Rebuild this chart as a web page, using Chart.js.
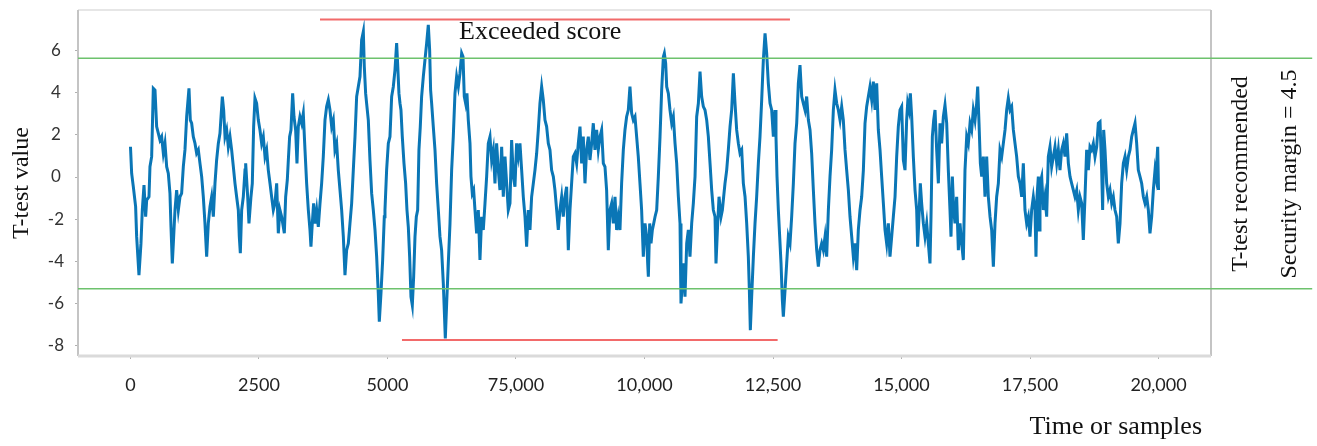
<!DOCTYPE html>
<html>
<head>
<meta charset="utf-8">
<script src="https://cdn.jsdelivr.net/npm/chart.js@4.4.1/dist/chart.umd.min.js"></script>
<style>
  html, body { margin: 0; padding: 0; background: #fff; }
  #wrap { width: 1317px; height: 446px; position: relative; }
</style>
</head>
<body>
<div id="wrap"><canvas id="myChart"></canvas></div>
<script>
// sample index of each traced point
const samples = [
  0,23,55,100,120,165,204,230,263,295,315,360,379,412,444,477,509,542,574,606,639,671,704,736,768,788,814,840,866,898,931,963,995,1028,1060,1093,1138,1164,1190,1222,1255,1287,1320,1352,1385,1417,1449,1482,1514,1547,1579,1612,1644,1676,1709,1741,1787,1813,1839,1871,1903,1936,1968,2001,2033,2065,2098,2117,2137,2163,2195,2228,2241,2280,2305,2344,2370,2396,
  2422,2454,2487,2519,2552,2584,2617,2649,2681,2714,2746,2779,2811,2844,2876,2908,2941,2993,3019,3051,3071,3096,3122,3155,3181,3213,3239,3265,3297,3330,3362,3395,3427,3460,3492,3511,3537,3563,3589,3622,3654,3687,3719,3751,3784,3816,3849,3881,3914,3946,3978,4011,4043,4076,4108,4141,4173,4205,4238,4270,4303,4335,4368,4400,4432,4465,4497,4530,4549,4575,4594,4627,4659,4692,4724,4757,4789,4821,4841,4873,4906,4938,
  4951,4983,5016,5048,5081,5113,5146,5178,5197,5223,5243,5262,5288,5321,5353,5379,5405,5431,5457,5483,5509,5535,5561,5587,5612,5638,5664,5697,5729,5762,5794,5820,5839,5859,5891,5924,5956,5989,6021,6053,6086,6105,6125,6151,6183,6216,6248,6280,6313,6345,6378,6410,6443,6469,6494,6520,6546,6572,6605,6624,6650,6676,6702,6734,6767,6799,6832,6864,6897,6929,6961,6994,7026,7059,7091,7123,7156,7188,7221,7253,7286,7318,7350,7383,7415,7448,
  7480,7512,7545,7577,7610,7642,7675,7707,7739,7772,7804,7837,7869,7902,7934,7966,7999,8031,8064,8096,8129,8161,8193,8226,8258,8291,8323,8355,8388,8420,8453,8485,8518,8550,8582,8615,8647,8680,8712,8745,8777,8809,8842,8874,8907,8939,8972,9004,9036,9069,9101,9134,9166,9199,9231,9263,9296,9328,9361,9393,9426,9458,9490,9523,9555,9588,9620,9652,9685,9717,9750,9782,9815,9847,9879,9912,9944,9977,
  10010,10042,10062,10075,10101,10127,10153,10179,10205,10237,10269,10302,10334,10367,10386,10412,10432,10464,10496,10529,10561,10594,10626,10659,10691,10710,10736,10756,10788,10821,10853,10885,10918,10950,10983,11015,11048,11080,11112,11145,11177,11210,11242,11275,11307,11339,11372,11391,11424,11450,11489,11515,11540,11566,11599,11631,11664,11696,11729,11761,11793,11826,11858,11891,11923,11956,11988,12020,12040,12059,12085,12118,12150,12182,12215,12247,12280,12312,12345,12377,12409,12442,12474,12507,
  12539,12558,12578,12604,12630,12656,12682,12701,12734,12766,12798,12831,12863,12896,12928,12961,12993,13025,13058,13090,13123,13155,13188,13220,13252,13285,13317,13350,13382,13414,13447,13479,13512,13544,13577,13609,13641,13674,13706,13739,13771,13804,13836,13868,13901,13933,13966,13998,14031,14063,14095,14128,14160,14193,14225,14258,14290,14322,14355,14387,14420,14452,14485,14517,14549,14582,14614,14647,14679,14711,14744,14776,14809,14841,14874,14906,14938,14971,15003,15036,
  15068,15100,15120,15146,15172,15198,15230,15263,15295,15314,15340,15366,15392,15425,15457,15490,15522,15554,15574,15600,15626,15652,15684,15717,15749,15781,15814,15846,15879,15911,15943,15963,15989,16015,16041,16073,16106,16138,16170,16203,16235,16268,16300,16333,16365,16397,16430,16462,16482,16508,16534,16560,16592,16624,16657,16689,16722,16754,16787,16819,16851,16884,16916,16949,16981,17014,17046,17078,17111,17143,17176,17208,17240,17273,17305,17338,17370,17402,17435,17467,17500,17532,17565,
  17597,17616,17636,17662,17675,17694,17727,17759,17792,17824,17856,17889,17921,17954,17986,18019,18051,18083,18116,18148,18181,18213,18246,18278,18310,18343,18375,18408,18440,18472,18505,18537,18570,18602,18635,18667,18699,18732,18764,18797,18829,18862,18894,18913,18933,18959,18991,19024,19056,19089,19121,19153,19186,19218,19251,19283,19316,19348,19380,19413,19445,19478,19510,19543,19575,19607,19640,19672,19705,19737,19770,19802,19834,19867,19899,19932,19951,19984,20000
];

// T-test value read at each sample
const tValues = [
  1.44,0.17,-0.46,-1.41,-2.84,-4.67,-3.16,-1.57,-0.38,-1.89,-1.10,-0.94,0.49,0.97,4.22,4.14,2.40,2.08,1.76,1.92,1.13,1.60,0.49,0.17,-0.78,-2.37,-4.11,-2.84,-1.57,-0.62,-1.57,-0.94,-0.78,0.49,1.29,2.87,4.22,2.71,2.56,1.92,1.60,1.13,1.29,0.65,0.02,-0.94,-2.21,-3.79,-2.21,-1.41,-0.94,-1.89,-0.30,0.81,1.60,2.08,3.83,3.19,1.92,2.24,1.44,1.92,1.29,0.49,-0.30,-0.94,-1.57,-2.84,-3.63,-1.57,-0.94,0.33,0.65,-0.94,-2.21,-0.94,-0.30,2.40,
  3.75,3.51,2.71,2.24,1.60,1.92,0.97,1.29,0.33,-0.30,-0.94,-1.57,-1.25,-0.30,-2.68,-1.57,-1.89,-2.68,-0.94,-0.14,0.81,1.92,2.24,3.98,2.87,2.24,0.65,2.40,2.87,2.56,3.03,1.29,-0.30,-1.57,-2.52,-3.32,-2.21,-1.25,-2.21,-1.57,-2.37,-1.25,-0.30,0.97,2.71,3.35,3.67,3.19,2.40,2.71,1.29,1.60,0.33,-0.62,-1.57,-2.84,-4.67,-3.48,-3.16,-2.21,-1.25,0.33,1.92,3.83,4.30,4.78,6.52,6.92,5.25,3.98,3.51,2.71,0.81,-0.78,-1.57,-2.52,-3.79,-5.54,-6.89,-5.54,-3.95,-1.89,
  -1.57,0.33,1.60,1.92,3.83,4.30,5.10,6.37,5.41,3.98,3.51,3.19,1.92,0.65,-0.30,-1.57,-2.37,-3.79,-5.70,-6.10,-4.75,-2.84,-1.89,-1.57,1.29,2.40,3.83,4.78,5.57,6.37,7.24,6.05,4.14,3.51,2.40,1.29,-0.30,-1.57,-2.84,-3.48,-5.06,-6.33,-7.68,-6.02,-4.11,-2.21,0.33,1.92,3.98,4.78,4.30,4.94,5.89,5.73,3.83,3.51,3.98,2.71,1.60,0.02,-0.78,-0.62,-1.57,-2.68,-1.57,-3.95,-1.89,-2.52,-1.25,0.02,1.60,1.92,0.81,1.29,-0.30,1.60,0.33,-0.62,1.44,-0.94,0.97,-0.30,-1.57,-1.25,1.76,0.02,
  -0.46,1.60,0.97,1.60,0.33,-0.94,-1.89,-3.32,-1.57,-2.52,-0.94,-0.30,0.33,1.13,2.24,3.51,4.30,3.67,2.71,2.40,1.60,1.29,0.33,0.02,-0.62,-1.57,-2.52,-1.57,-0.94,-1.89,-0.94,-0.46,-3.48,-1.57,-0.30,0.97,1.13,0.65,1.60,2.40,0.65,1.92,-0.30,1.29,1.92,0.81,1.60,2.56,1.29,2.24,1.29,1.92,2.24,0.65,0.49,-0.62,-3.48,-1.57,-1.25,-2.21,-0.94,-2.52,-1.89,-2.52,-0.30,1.29,2.24,2.87,3.19,4.30,3.03,2.71,2.87,1.92,0.97,-0.30,-1.57,-3.79,
  -2.21,-2.84,-4.11,-4.75,-2.21,-3.16,-2.52,-2.21,-1.89,-1.57,0.02,1.92,4.14,5.73,5.89,5.41,4.30,3.98,3.19,2.56,2.87,1.60,0.65,-0.94,-2.21,-6.02,-5.06,-4.11,-5.70,-3.16,-2.52,-3.79,-2.21,-1.25,0.02,2.87,3.51,5.02,3.83,3.35,3.19,2.71,1.92,0.65,-0.62,-1.57,-1.89,-4.11,-2.21,-0.94,-1.89,-1.57,-0.94,-0.30,0.33,1.29,2.40,3.19,4.94,3.51,2.24,1.60,1.13,1.29,-0.30,-0.94,-2.21,-3.79,-5.38,-7.29,-5.70,-3.79,-2.21,-0.94,0.65,1.92,3.67,5.57,6.84,5.89,4.46,3.51,3.19,1.92,
  3.19,1.92,0.02,-1.57,-2.84,-4.11,-5.86,-6.65,-5.38,-4.11,-2.84,-3.16,-1.89,-0.30,1.60,2.56,4.46,5.33,3.83,3.51,3.19,3.83,2.71,2.24,1.13,-0.62,-2.21,-3.48,-4.27,-3.48,-3.16,-3.48,-2.84,-3.79,-1.57,0.02,1.29,3.19,4.14,3.51,3.19,2.71,3.35,2.71,1.29,0.33,-0.62,-1.89,-2.84,-3.79,-3.16,-4.43,-2.52,-1.57,-0.94,0.33,2.56,3.35,3.83,4.30,3.67,4.54,3.19,4.46,2.24,1.29,0.02,-1.25,-2.52,-3.16,-2.21,-3.79,-2.84,-1.89,-0.94,0.97,2.40,3.19,3.35,0.81,
  0.33,2.71,3.51,3.19,3.98,2.87,0.97,-0.62,-1.57,-3.32,-1.89,-0.30,-1.25,-2.21,-2.84,-2.21,-3.16,-4.11,-1.89,1.92,2.71,3.19,1.29,-0.30,2.56,1.60,2.87,3.43,2.56,0.33,-1.57,-2.84,0.02,-1.57,-2.21,-0.94,-3.48,-2.21,-3.16,-3.95,0.33,1.92,1.60,2.56,2.24,3.19,2.71,3.51,4.30,2.56,0.65,0.02,0.97,-0.94,0.97,-0.94,-1.89,-2.52,-4.27,-2.21,-0.94,-0.30,1.29,0.97,1.60,2.24,3.19,3.75,3.19,3.35,2.24,1.60,0.97,0.02,-0.30,-0.94,0.65,-1.57,-2.21,-1.89,-2.84,-1.57,-0.94,
  -1.57,-3.79,-0.94,0.02,-2.52,-0.30,0.02,-1.57,-0.94,-1.89,0.97,1.44,0.49,0.97,1.44,0.65,1.29,0.33,1.29,1.60,0.97,2.08,0.65,0.02,-0.30,-0.62,-0.94,-0.62,-1.57,-0.94,-1.25,-3.00,-0.94,1.29,0.33,1.44,1.29,1.60,0.97,1.44,2.56,2.63,0.33,-1.57,2.24,1.29,-0.30,-0.94,-0.62,-1.25,-0.94,-1.57,-1.89,-3.16,-2.21,-0.30,0.65,0.97,0.33,0.97,1.29,1.92,2.24,2.56,1.60,0.33,0.02,-0.30,-0.94,-1.25,-0.94,-1.57,-2.68,-1.89,-0.62,0.33,0.02,1.44,-0.62
];

const xTickValues = [0, 2500, 5000, 7500, 10000, 12500, 15000, 17500, 20000];
const xTickLabels = ['0', '2500', '5000', '75,000', '10,000', '12,500', '15,000', '17,500', '20,000'];
const yTickValues = [-8, -6, -4, -2, 0, 2, 4, 6];
const yTickLabels = ['-8', '-6', '-4', '-2', '0', '2', '4', '6'];

// security margin lines (green) and exceeded score lines (red)
const marginLevels = [5.65, -5.32];
const marginSpan = [-1021, 22990];
const exceededLevels = [7.5, -7.76];
const exceededStart = [3687, 5282];
const exceededEnd = [12830, 12590];

const seriesData = samples.map((s, i) => ({ x: s, y: tValues[i] }));

const refDatasets = [];
marginLevels.forEach(level => {
    refDatasets.push({
        data: [{ x: marginSpan[0], y: level }, { x: marginSpan[1], y: level }],
        borderColor: '#6dc26d',
        borderWidth: 1.5,
        pointRadius: 0,
        clip: false
    });
});
exceededLevels.forEach((level, i) => {
    refDatasets.push({
        data: [{ x: exceededStart[i], y: level }, { x: exceededEnd[i], y: level }],
        borderColor: '#f26a6a',
        borderWidth: 2,
        pointRadius: 0,
        clip: false
    });
});

const framePlugin = {
    id: 'frame',
    beforeDatasetsDraw(chart) {
        const { ctx, chartArea: a } = chart;
        ctx.save();
        ctx.lineWidth = 2;
        ctx.strokeStyle = '#e6e6e6';
        ctx.beginPath(); ctx.moveTo(a.left, a.top); ctx.lineTo(a.right, a.top); ctx.stroke();
        ctx.strokeStyle = '#c4c4c4';
        ctx.beginPath(); ctx.moveTo(a.left, a.top); ctx.lineTo(a.left, a.bottom); ctx.stroke();
        ctx.beginPath(); ctx.moveTo(a.right, a.top); ctx.lineTo(a.right, a.bottom); ctx.stroke();
        ctx.lineWidth = 3;
        ctx.strokeStyle = '#dadada';
        ctx.beginPath(); ctx.moveTo(a.left, a.bottom); ctx.lineTo(a.right, a.bottom); ctx.stroke();
        ctx.restore();
    }
};

const textPlugin = {
    id: 'texts',
    afterDraw(chart) {
        const ctx = chart.ctx;
        ctx.save();
        ctx.fillStyle = '#111';
        ctx.font = '26px "Liberation Serif"';
        ctx.textBaseline = 'alphabetic';
        ctx.textAlign = 'left';
        ctx.fillText('Exceeded score', 459, 39);
        ctx.textAlign = 'right';
        ctx.fillText('Time or samples', 1202, 434);

        const vertical = (text, x, y) => {
            ctx.save();
            ctx.translate(x, y);
            ctx.rotate(-Math.PI / 2);
            ctx.textAlign = 'center';
            ctx.textBaseline = 'alphabetic';
            ctx.fillText(text, 0, 0);
            ctx.restore();
        };
        ctx.font = '24px "Liberation Serif"';
        vertical('T-test value', 28, 183);
        vertical('T-test recommended', 1247, 174);
        vertical('Security margin = 4.5', 1296, 174);
        ctx.restore();
    }
};

const ctx = document.getElementById('myChart');

const myChart = new Chart(ctx, {
    type: 'line',
    data: {
        datasets: [
            ...refDatasets,
            {
                label: 'T-test',
                data: seriesData,
                borderColor: '#0a76b6',
                borderWidth: 3,
                pointRadius: 0,
                tension: 0
            }
        ]
    },
    options: {
        responsive: true,
        maintainAspectRatio: false,
        animation: false,
        layout: {
            padding: { left: 0, right: 106, top: 10, bottom: 0 }
        },
        scales: {
            x: {
                type: 'linear',
                min: -1021,
                max: 21021,
                afterBuildTicks: scale => {
                    scale.ticks = xTickValues.map(v => ({ value: v }));
                },
                afterFit: scale => { scale.height = 90; },
                grid: {
                    drawOnChartArea: false,
                    tickLength: 3,
                    color: '#b0b0b0'
                },
                border: { display: false },
                ticks: {
                    color: '#222',
                    padding: 15,
                    maxRotation: 0,
                    autoSkip: false,
                    font: { family: 'Lato', size: 18 },
                    callback: function(value, index) {
                        return xTickLabels[index];
                    }
                }
            },
            y: {
                min: -8.52,
                max: 7.95,
                afterBuildTicks: scale => {
                    scale.ticks = yTickValues.map(v => ({ value: v }));
                },
                afterFit: scale => {
                    scale.width = 78;
                    scale.paddingTop = 0;
                    scale.paddingBottom = 0;
                },
                grid: {
                    drawOnChartArea: false,
                    tickLength: 3,
                    color: '#b0b0b0'
                },
                border: { display: false },
                ticks: {
                    color: '#333',
                    padding: 11,
                    crossAlign: 'center',
                    font: { family: 'Lato', size: 17 },
                    callback: function(value, index) {
                        return yTickLabels[index];
                    }
                }
            }
        },
        plugins: {
            legend: { display: false },
            tooltip: { enabled: false }
        }
    },
    plugins: [framePlugin, textPlugin]
});
</script>
</body>
</html>
